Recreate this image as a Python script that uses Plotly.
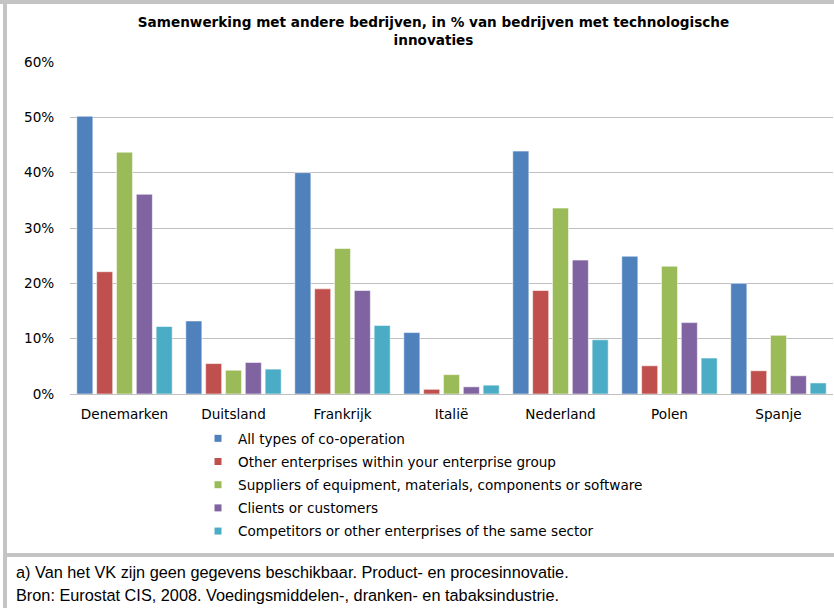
import plotly.graph_objects as go

countries = ["Denemarken", "Duitsland", "Frankrijk", "Italië", "Nederland", "Polen", "Spanje"]
series_names = [
    "All types of co-operation",
    "Other enterprises within your enterprise group",
    "Suppliers of equipment, materials, components or software",
    "Clients or customers",
    "Competitors or other enterprises of the same sector",
]
all_types = [50.2, 13.2, 40.0, 11.1, 43.9, 24.9, 20.0]
within_group = [22.1, 5.5, 19.0, 0.85, 18.7, 5.1, 4.2]
suppliers = [43.7, 4.3, 26.3, 3.5, 33.6, 23.1, 10.6]
clients = [36.1, 5.7, 18.7, 1.3, 24.2, 12.9, 3.3]
competitors = [12.2, 4.5, 12.4, 1.6, 9.8, 6.5, 2.0]
colors = ["#4F81BD", "#C0504D", "#9BBB59", "#8064A2", "#4BACC6"]
y_ticks = [0, 10, 20, 30, 40, 50, 60]
y_tick_labels = ["0%", "10%", "20%", "30%", "40%", "50%", "60%"]
title_text = "Samenwerking met andere bedrijven, in % van bedrijven met technologische<br>innovaties"
footnotes = [
    "a) Van het VK zijn geen gegevens beschikbaar. Product- en procesinnovatie.",
    "Bron: Eurostat CIS, 2008. Voedingsmiddelen-, dranken- en tabaksindustrie.",
]

W, H = 834, 608
L, R, T, B = 70, 1, 62, 214
PW, PH = W - L - R, H - T - B


def px(x):
    return (x - L) / PW


def py(y):
    return (H - B - y) / PH


FONT = "DejaVu Sans, Verdana, sans-serif"
FS = 13.6
fig = go.Figure()
values = [all_types, within_group, suppliers, clients, competitors]
for i, (name, vals) in enumerate(zip(series_names, values)):
    fig.add_trace(go.Bar(
        x=countries, y=vals, name=name, marker_color=colors[i],
        marker_line=dict(color="rgba(255,255,255,0.55)", width=1),
        showlegend=False, legendgroup=f"g{i}",
    ))
for i, name in enumerate(series_names):
    fig.add_trace(go.Scatter(
        x=[None], y=[None], mode="markers", name=name, legendgroup=f"g{i}",
        marker=dict(symbol="square", size=7, color=colors[i]),
    ))

fig.update_layout(
    width=W, height=H,
    margin=dict(l=L, r=R, t=T, b=B),
    paper_bgcolor="white", plot_bgcolor="white",
    barmode="group", bargap=0.09, bargroupgap=0.19,
    font=dict(family=FONT, size=FS, color="#000000"),
    title=dict(text=title_text, x=433.5 / W, xanchor="center", y=1 - 27 / H, yanchor="top",
               font=dict(family=FONT, size=FS, weight="bold", color="#000000")),
    legend=dict(orientation="v", x=px(198), xanchor="left", y=py(423), yanchor="top",
                traceorder="grouped", tracegroupgap=2.5, font=dict(family=FONT, size=FS),
                bgcolor="rgba(0,0,0,0)", borderwidth=0),
    xaxis=dict(showline=False, showgrid=False, ticks="outside", ticklen=8,
               tickcolor="rgba(0,0,0,0)", tickfont=dict(size=FS), range=[-0.5, 6.5]),
    yaxis=dict(range=[0, 60], tickvals=y_ticks, ticktext=y_tick_labels, showgrid=True,
               gridcolor="#BFBFBF", gridwidth=1, zeroline=True, zerolinecolor="#BFBFBF",
               zerolinewidth=1, showline=False, ticks="outside", ticklen=12,
               tickcolor="rgba(0,0,0,0)", tickfont=dict(size=FS)),
)

for i, t in enumerate(footnotes):
    fig.add_annotation(text=t, xref="paper", yref="paper", x=px(14), y=py(572 + 23 * i),
                       xanchor="left", yanchor="middle", showarrow=False,
                       font=dict(family="Liberation Sans Narrow, Liberation Sans, Arial, sans-serif",
                                 size=16.3, color="#000000"))

# frame decorations
fig.add_shape(type="rect", xref="paper", yref="paper", x0=px(0), x1=px(W), y0=py(0), y1=py(4),
              fillcolor="#C4C4C4", line_width=0, layer="above")
fig.add_shape(type="rect", xref="paper", yref="paper", x0=px(3), x1=px(7), y0=py(0), y1=py(H),
              fillcolor="#C4C4C4", line_width=0, layer="above")
fig.add_shape(type="rect", xref="paper", yref="paper", x0=px(3), x1=px(W), y0=py(553), y1=py(557),
              fillcolor="#C4C4C4", line_width=0, layer="above")

fig.write_html("out.html")
